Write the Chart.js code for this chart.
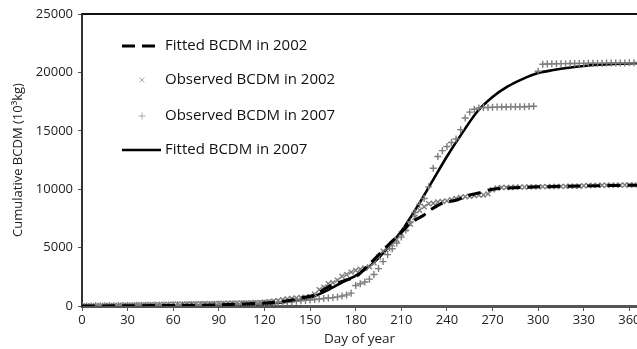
<!DOCTYPE html>
<html>
<head>
<meta charset="utf-8">
<script src="https://cdn.jsdelivr.net/npm/chart.js@4"></script>
<style>
  html, body { margin: 0; padding: 0; background: #fff; overflow: hidden; }
  #wrap { width: 660px; height: 349px; }
</style>
</head>
<body>
<div id="wrap"><canvas id="bcdmChart" width="660" height="349"></canvas></div>
<script>
// Tick labels
const xTicks = [0, 30, 60, 90, 120, 150, 180, 210, 240, 270, 300, 330, 360];
const yTicks = [0, 5000, 10000, 15000, 20000, 25000];

// Observation days (every 3 days)
const obsDays = [
  0, 3, 6, 9, 12, 15, 18, 21, 24, 27, 30,
  33, 36, 39, 42, 45, 48, 51, 54, 57, 60,
  63, 66, 69, 72, 75, 78, 81, 84, 87, 90,
  93, 96, 99, 102, 105, 108, 111, 114, 117, 120,
  123, 126, 129, 132, 135, 138, 141, 144, 147, 150,
  153, 156, 159, 162, 165, 168, 171, 174, 177, 180,
  183, 186, 189, 192, 195, 198, 201, 204, 207, 210,
  213, 216, 219, 222, 225, 228, 231, 234, 237, 240,
  243, 246, 249, 252, 255, 258, 261, 264, 267, 270,
  273, 276, 279, 282, 285, 288, 291, 294, 297, 300,
  303, 306, 309, 312, 315, 318, 321, 324, 327, 330,
  333, 336, 339, 342, 345, 348, 351, 354, 357, 360, 363
];

// Observed cumulative BCDM, 10^3 kg
const observed2002 = [
  0, 5, 10, 20, 25, 35, 40, 50, 55, 60, 70,
  75, 85, 90, 100, 110, 115, 120, 130, 135, 145,
  150, 155, 165, 170, 175, 185, 190, 200, 205, 215,
  220, 230, 235, 245, 255, 265, 270, 285, 300, 320,
  360, 400, 470, 540, 600, 640, 680, 720, 760, 820,
  1000, 1400, 1600, 1900, 2000, 2200, 2550, 2700, 2900, 3050,
  3150, 3250, 3350, 3700, 4200, 4700, 4950, 5300, 5700, 6200,
  6600, 7000, 7600, 8200, 8500, 8750, 8800, 8900, 8950, 9000,
  9100, 9200, 9300, 9350, 9400, 9450, 9500, 9500, 9600, 9950,
  10100, 10150, 10150, 10150, 10180, 10180, 10180, 10200, 10200, 10200,
  10220, 10220, 10230, 10230, 10240, 10240, 10250, 10250, 10260, 10300,
  10320, 10320, 10330, 10340, 10340, 10340, 10350, 10350, 10360, 10360, 10360
];

const observed2007 = [
  0, 5, 8, 12, 18, 22, 28, 32, 38, 42, 48,
  52, 58, 62, 68, 72, 78, 82, 88, 92, 98,
  102, 108, 112, 118, 122, 128, 132, 138, 142, 148,
  155, 160, 168, 175, 182, 190, 200, 210, 220, 235,
  250, 270, 290, 310, 340, 370, 400, 440, 480, 520,
  560, 600, 640, 680, 720, 780, 850, 950, 1100, 1750,
  1900, 2050, 2300, 2700, 3200, 3800, 4400, 4900, 5400, 5900,
  6500, 7200, 8000, 8700, 9200, 10200, 11800, 12800, 13300, 13650,
  14000, 14300, 15100, 16100, 16600, 16850, 16950, 17000, 17000, 17020,
  17030, 17040, 17040, 17050, 17050, 17060, 17060, 17080, 17100, 20100,
  20700, 20720, 20730, 20740, 20750, 20750, 20760, 20760, 20770, 20770,
  20780, 20780, 20790, 20790, 20800, 20800, 20800, 20810, 20810, 20820, 20820
];

// Fitted curves
const fit2002Days = [0, 30, 60, 90, 120, 135, 145, 152, 163, 172, 180, 186, 193, 204, 210, 216, 221, 225, 230, 237, 247, 255, 260, 270, 280, 300, 330, 360, 365];
const fitted2002 = [0, 20, 50, 100, 250, 450, 700, 900, 1700, 2150, 2500, 3200, 4100, 5560, 6300, 7100, 7500, 7800, 8300, 8800, 9100, 9500, 9650, 10000, 10100, 10200, 10280, 10330, 10340];

const fit2007Days = [0, 30, 60, 90, 120, 130, 140, 150, 160, 170, 180, 190, 200, 210, 220, 230, 240, 250, 260, 270, 280, 290, 300, 310, 320, 330, 340, 350, 360, 365];
const fitted2007 = [0, 10, 30, 70, 180, 280, 450, 700, 1250, 1950, 2600, 3500, 4800, 6400, 8400, 10600, 12800, 14800, 16650, 17900, 18800, 19450, 19950, 20200, 20400, 20550, 20650, 20720, 20770, 20790];

const toPoints = (xs, ys) => xs.map((x, i) => ({ x: x, y: ys[i] }));

const FONT = '"Open Sans", Lato, sans-serif';
const MARK = '#7c7c7c';

// legend drawn inside the plot, plus the top frame line
const insideLegend = {
  id: 'insideLegend',
  afterDatasetsDraw(chart) {
    const ctx = chart.ctx;
    const area = chart.chartArea;
    const rows = [46, 80, 116, 150];
    ctx.save();
    ctx.strokeStyle = '#111';
    ctx.lineWidth = 2;
    ctx.beginPath();
    ctx.moveTo(area.left, area.top);
    ctx.lineTo(area.right, area.top);
    ctx.stroke();

    ctx.font = '15px ' + FONT;
    ctx.textBaseline = 'middle';
    chart.data.datasets.forEach((ds, i) => {
      const y = rows[i];
      if (ds.showLine) {
        ctx.strokeStyle = ds.borderColor;
        ctx.lineWidth = ds.borderWidth;
        ctx.setLineDash(ds.borderDash || []);
        ctx.beginPath();
        ctx.moveTo(122, y);
        ctx.lineTo(161, y);
        ctx.stroke();
        ctx.setLineDash([]);
      } else {
        ctx.strokeStyle = '#aaa';
        ctx.lineWidth = 1;
        Chart.helpers.drawPoint(ctx, { pointStyle: ds.pointStyle, radius: 3.5, borderWidth: 1, rotation: 0 }, 142, y);
      }
      ctx.fillStyle = '#111';
      ctx.fillText(ds.label, 165, y);
    });
    ctx.restore();
  }
};

const ctx = document.getElementById('bcdmChart').getContext('2d');

new Chart(ctx, {
  type: 'scatter',
  data: {
    datasets: [
      {
        label: 'Fitted BCDM in 2002',
        data: toPoints(fit2002Days, fitted2002),
        showLine: true,
        borderColor: '#000',
        borderWidth: 3,
        borderDash: [13, 7],
        tension: 0.3,
        pointRadius: 0
      },
      {
        label: 'Observed BCDM in 2002',
        data: toPoints(obsDays, observed2002),
        showLine: false,
        pointStyle: 'crossRot',
        pointRadius: 3.5,
        pointBorderWidth: 1.4,
        pointBorderColor: MARK,
        borderColor: MARK
      },
      {
        label: 'Observed BCDM in 2007',
        data: toPoints(obsDays, observed2007),
        showLine: false,
        pointStyle: 'cross',
        pointRadius: 3.5,
        pointBorderWidth: 1.4,
        pointBorderColor: MARK,
        borderColor: MARK
      },
      {
        label: 'Fitted BCDM in 2007',
        data: toPoints(fit2007Days, fitted2007),
        showLine: true,
        borderColor: '#000',
        borderWidth: 2.6,
        tension: 0.3,
        pointRadius: 0
      }
    ]
  },
  options: {
    responsive: false,
    animation: false,
    layout: { padding: { top: 14, right: 23, left: 0, bottom: 0 } },
    plugins: {
      legend: { display: false },
      tooltip: { enabled: false }
    },
    scales: {
      x: {
        type: 'linear',
        min: 0,
        max: 365,
        afterBuildTicks: (scale) => { scale.ticks = xTicks.map(v => ({ value: v })); },
        afterFit: (scale) => { scale.height = 43; },
        ticks: { color: '#222', font: { family: FONT, size: 13 }, padding: 1, maxRotation: 0, callback: (v) => String(v) },
        grid: { drawOnChartArea: false, tickLength: 5, color: '#555' },
        border: { color: '#555', width: 3 },
        title: {
          display: true,
          text: 'Day of year',
          color: '#222',
          font: { family: FONT, size: 13.5 },
          padding: { top: 0, bottom: 2 }
        }
      },
      y: {
        min: 0,
        max: 25000,
        afterBuildTicks: (scale) => { scale.ticks = yTicks.map(v => ({ value: v })); },
        afterFit: (scale) => { scale.width = 82; },
        ticks: { color: '#222', font: { family: FONT, size: 13 }, padding: 5, callback: (v) => String(v) },
        grid: { drawOnChartArea: false, tickLength: 4, color: '#555' },
        border: { color: '#333', width: 2 },
        title: {
          display: true,
          text: 'Cumulative BCDM (10³kg)',
          color: '#222',
          font: { family: FONT, size: 13 },
          padding: { top: 10, bottom: 0 }
        }
      }
    }
  },
  plugins: [insideLegend]
});
</script>
</body>
</html>
